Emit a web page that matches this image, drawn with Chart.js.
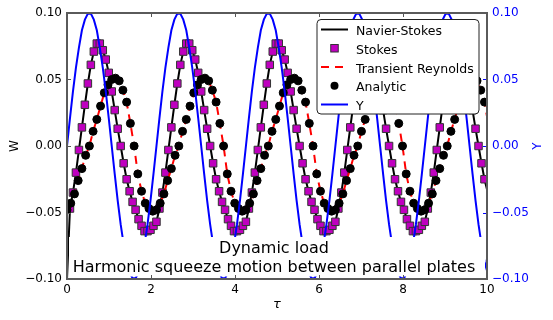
<!DOCTYPE html>
<html>
<head>
<meta charset="utf-8">
<title>Dynamic load - harmonic squeeze motion</title>
<script src="https://cdn.jsdelivr.net/npm/chart.js@4.4.1/dist/chart.umd.min.js"></script>
<style>
  html, body { margin: 0; padding: 0; background: #fff; }
  #wrap { width: 553px; height: 320px; }
</style>
</head>
<body>
<div id="wrap"><canvas id="squeeze-chart" width="553" height="320"></canvas></div>
<script>
// fine sampling in tau (Navier-Stokes / Stokes / plate motion Y)
const tauFine = [
  0, 0.071, 0.142, 0.213, 0.284, 0.355, 0.426, 0.497, 0.568, 0.639,
  0.71, 0.781, 0.852, 0.923, 0.994, 1.065, 1.136, 1.207, 1.278, 1.349,
  1.42, 1.491, 1.562, 1.633, 1.704, 1.775, 1.846, 1.917, 1.988, 2.059,
  2.13, 2.201, 2.272, 2.343, 2.414, 2.485, 2.556, 2.627, 2.698, 2.769,
  2.84, 2.911, 2.982, 3.053, 3.124, 3.195, 3.266, 3.337, 3.408, 3.479,
  3.55, 3.621, 3.692, 3.763, 3.834, 3.905, 3.976, 4.047, 4.118, 4.189,
  4.26, 4.331, 4.402, 4.473, 4.544, 4.615, 4.686, 4.757, 4.828, 4.899,
  4.97, 5.041, 5.112, 5.183, 5.254, 5.325, 5.396, 5.467, 5.538, 5.609,
  5.68, 5.751, 5.822, 5.893, 5.964, 6.035, 6.106, 6.177, 6.248, 6.319,
  6.39, 6.461, 6.532, 6.603, 6.674, 6.745, 6.816, 6.887, 6.958, 7.029,
  7.1, 7.171, 7.242, 7.313, 7.384, 7.455, 7.526, 7.597, 7.668, 7.739,
  7.81, 7.881, 7.952, 8.023, 8.094, 8.165, 8.236, 8.307, 8.378, 8.449,
  8.52, 8.591, 8.662, 8.733, 8.804, 8.875, 8.946, 9.017, 9.088, 9.159,
  9.23, 9.301, 9.372, 9.443, 9.514, 9.585, 9.656, 9.727, 9.798, 9.869,
  9.94, 10.011
];

// Stokes W (squares), Navier-Stokes runs through the same points
const stokesW = [
  null, -0.047, -0.035, -0.020, -0.003, 0.014, 0.031, 0.047, 0.061, 0.071,
  0.077, 0.077, 0.072, 0.065, 0.055, 0.041, 0.027, 0.013, 0.000, -0.013,
  -0.025, -0.034, -0.042, -0.048, -0.055, -0.060, -0.064, -0.064, -0.063, -0.060,
  -0.057, -0.047, -0.035, -0.020, -0.003, 0.014, 0.031, 0.047, 0.061, 0.071,
  0.077, 0.077, 0.072, 0.065, 0.055, 0.041, 0.027, 0.013, 0.000, -0.013,
  -0.025, -0.034, -0.042, -0.048, -0.055, -0.060, -0.064, -0.064, -0.063, -0.060,
  -0.057, -0.047, -0.035, -0.020, -0.003, 0.014, 0.031, 0.047, 0.061, 0.071,
  0.077, 0.077, 0.072, 0.065, 0.055, 0.041, 0.027, 0.013, 0.000, -0.013,
  -0.025, -0.034, -0.042, -0.048, -0.055, -0.060, -0.064, -0.064, -0.063, -0.060,
  -0.057, -0.047, -0.035, -0.020, -0.003, 0.014, 0.031, 0.047, 0.061, 0.071,
  0.077, 0.077, 0.072, 0.065, 0.055, 0.041, 0.027, 0.013, 0.000, -0.013,
  -0.025, -0.034, -0.042, -0.048, -0.055, -0.060, -0.064, -0.064, -0.063, -0.060,
  -0.057, -0.047, -0.035, -0.020, -0.003, 0.014, 0.031, 0.047, 0.061, 0.071,
  0.077, 0.077, 0.072, 0.065, 0.055, 0.041, 0.027, 0.013, 0.000, -0.013,
  -0.025, -0.034
];
const navierStart = -0.1; // NS curve starts off the bottom of the axis at tau = 0

// plate motion Y (right axis)
const plateY = [
  0, 0.021, 0.041, 0.059, 0.074, 0.087, 0.095, 0.0995, 0.0995, 0.095,
  0.087, 0.074, 0.059, 0.041, 0.021, 0, -0.021, -0.041, -0.059, -0.074,
  -0.087, -0.095, -0.0995, -0.0995, -0.095, -0.087, -0.074, -0.059, -0.041, -0.021,
  0, 0.021, 0.041, 0.059, 0.074, 0.087, 0.095, 0.0995, 0.0995, 0.095,
  0.087, 0.074, 0.059, 0.041, 0.021, 0, -0.021, -0.041, -0.059, -0.074,
  -0.087, -0.095, -0.0995, -0.0995, -0.095, -0.087, -0.074, -0.059, -0.041, -0.021,
  0, 0.021, 0.041, 0.059, 0.074, 0.087, 0.095, 0.0995, 0.0995, 0.095,
  0.087, 0.074, 0.059, 0.041, 0.021, 0, -0.021, -0.041, -0.059, -0.074,
  -0.087, -0.095, -0.0995, -0.0995, -0.095, -0.087, -0.074, -0.059, -0.041, -0.021,
  0, 0.021, 0.041, 0.059, 0.074, 0.087, 0.095, 0.0995, 0.0995, 0.095,
  0.087, 0.074, 0.059, 0.041, 0.021, 0, -0.021, -0.041, -0.059, -0.074,
  -0.087, -0.095, -0.0995, -0.0995, -0.095, -0.087, -0.074, -0.059, -0.041, -0.021,
  0, 0.021, 0.041, 0.059, 0.074, 0.087, 0.095, 0.0995, 0.0995, 0.095,
  0.087, 0.074, 0.059, 0.041, 0.021, 0, -0.021, -0.041, -0.059, -0.074,
  -0.087, -0.095
];

// coarser sampling for the analytic solution
const tauCoarse = [
  0, 0.089, 0.178, 0.266, 0.355, 0.444, 0.533, 0.621, 0.71, 0.799, 0.888, 0.976,
  1.065, 1.154, 1.243, 1.331, 1.42, 1.509, 1.598, 1.686, 1.775, 1.864, 1.953, 2.041,
  2.13, 2.219, 2.308, 2.396, 2.485, 2.574, 2.663, 2.751, 2.84, 2.929, 3.018, 3.106,
  3.195, 3.284, 3.373, 3.461, 3.55, 3.639, 3.728, 3.816, 3.905, 3.994, 4.083, 4.171,
  4.26, 4.349, 4.438, 4.526, 4.615, 4.704, 4.793, 4.881, 4.97, 5.059, 5.148, 5.236,
  5.325, 5.414, 5.503, 5.591, 5.68, 5.769, 5.858, 5.946, 6.035, 6.124, 6.213, 6.301,
  6.39, 6.479, 6.568, 6.656, 6.745, 6.834, 6.923, 7.011, 7.1, 7.189, 7.278, 7.366,
  7.455, 7.544, 7.633, 7.721, 7.81, 7.899, 7.988, 8.076, 8.165, 8.254, 8.343, 8.431,
  8.52, 8.609, 8.698, 8.786, 8.875, 8.964, 9.053, 9.141, 9.23, 9.319, 9.408, 9.496,
  9.585, 9.674, 9.763, 9.851, 9.94, 10.029
];

// Analytic W (circles), the transient Reynolds dashed curve follows it
const analyticW = [
  -0.048, -0.043, -0.036, -0.026, -0.017, -0.007, 0.000, 0.011, 0.020, 0.030, 0.040, 0.046,
  0.050, 0.051, 0.049, 0.042, 0.033, 0.017, 0.000, -0.021, -0.034, -0.043, -0.047, -0.049,
  -0.048, -0.043, -0.036, -0.026, -0.017, -0.007, 0.000, 0.011, 0.020, 0.030, 0.040, 0.046,
  0.050, 0.051, 0.049, 0.042, 0.033, 0.017, 0.000, -0.021, -0.034, -0.043, -0.047, -0.049,
  -0.048, -0.043, -0.036, -0.026, -0.017, -0.007, 0.000, 0.011, 0.020, 0.030, 0.040, 0.046,
  0.050, 0.051, 0.049, 0.042, 0.033, 0.017, 0.000, -0.021, -0.034, -0.043, -0.047, -0.049,
  -0.048, -0.043, -0.036, -0.026, -0.017, -0.007, 0.000, 0.011, 0.020, 0.030, 0.040, 0.046,
  0.050, 0.051, 0.049, 0.042, 0.033, 0.017, 0.000, -0.021, -0.034, -0.043, -0.047, -0.049,
  -0.048, -0.043, -0.036, -0.026, -0.017, -0.007, 0.000, 0.011, 0.020, 0.030, 0.040, 0.046,
  0.050, 0.051, 0.049, 0.042, 0.033, 0.017
];

const xTickValues = [0, 2, 4, 6, 8, 10];
const xTickLabels = ['0', '2', '4', '6', '8', '10'];
const yTickValues = [-0.1, -0.05, 0, 0.05, 0.1];
const yTickLabels = ['\u22120.10', '\u22120.05', '0.00', '0.05', '0.10'];

const FONT = '"DejaVu Sans", "Liberation Sans", sans-serif';
const MAGENTA = '#bf00bf';
const BLUE = '#0000ff';

const legendItems = [
  { label: 'Navier-Stokes', kind: 'line', color: '#000' },
  { label: 'Stokes', kind: 'square', color: MAGENTA },
  { label: 'Transient Reynolds', kind: 'dash', color: '#ff0000' },
  { label: 'Analytic', kind: 'circle', color: '#000' },
  { label: 'Y', kind: 'line', color: BLUE }
];

function pts(xs, ys) {
  return xs.map((x, i) => ({ x: x, y: ys[i] }));
}

// white box with the two caption lines, sits on top of the curves
const captionBox = {
  id: 'captionBox',
  afterDatasetsDraw(chart) {
    const ctx = chart.ctx;
    ctx.save();
    ctx.fillStyle = '#fff';
    ctx.fillRect(69, 237, 416, 39.5);
    ctx.fillStyle = '#000';
    ctx.font = '16px ' + FONT;
    ctx.textAlign = 'center';
    ctx.textBaseline = 'alphabetic';
    ctx.fillText('Dynamic load', 274, 252.7);
    ctx.fillText('Harmonic squeeze motion between parallel plates', 274, 271.7);
    ctx.restore();
  }
};

// spines, inward ticks, axis titles and the legend
const frame = {
  id: 'frame',
  afterDraw(chart) {
    const ctx = chart.ctx;
    const a = chart.chartArea;
    const xs = chart.scales.x, ys = chart.scales.y, y2 = chart.scales.y2;
    ctx.save();

    ctx.strokeStyle = '#555';
    ctx.lineWidth = 1;
    ctx.beginPath();
    xTickValues.forEach(v => {
      const px = Math.round(xs.getPixelForValue(v)) + 0.5;
      ctx.moveTo(px, a.bottom); ctx.lineTo(px, a.bottom - 4);
      ctx.moveTo(px, a.top); ctx.lineTo(px, a.top + 4);
    });
    yTickValues.forEach(v => {
      const py = Math.round(ys.getPixelForValue(v)) + 0.5;
      ctx.moveTo(a.left, py); ctx.lineTo(a.left + 4, py);
    });
    ctx.stroke();

    ctx.strokeStyle = BLUE;
    ctx.beginPath();
    yTickValues.forEach(v => {
      const py = Math.round(y2.getPixelForValue(v)) + 0.5;
      ctx.moveTo(a.right, py); ctx.lineTo(a.right - 4, py);
    });
    ctx.stroke();

    ctx.strokeStyle = '#5a5a5a';
    ctx.lineWidth = 2;
    ctx.strokeRect(a.left, a.top, a.right - a.left, a.bottom - a.top);

    // axis titles
    ctx.textAlign = 'center';
    ctx.textBaseline = 'middle';
    ctx.fillStyle = '#000';
    ctx.font = '12px ' + FONT;
    ctx.save();
    ctx.translate(15, (a.top + a.bottom) / 2);
    ctx.rotate(-Math.PI / 2);
    ctx.fillText('W', 0, 0);
    ctx.restore();
    ctx.save();
    ctx.fillStyle = BLUE;
    ctx.translate(538, (a.top + a.bottom) / 2);
    ctx.rotate(-Math.PI / 2);
    ctx.fillText('Y', 0, 0);
    ctx.restore();
    ctx.font = 'italic 13px ' + FONT;
    ctx.fillText('\u03c4', (a.left + a.right) / 2, 305);

    // legend
    const lx = 317, ly = 19.5, lw = 162, lh = 94.5;
    ctx.beginPath();
    ctx.roundRect(lx, ly, lw, lh, 4);
    ctx.fillStyle = '#fff';
    ctx.fill();
    ctx.strokeStyle = '#222';
    ctx.lineWidth = 1;
    ctx.stroke();

    ctx.font = '12.5px ' + FONT;
    ctx.textAlign = 'left';
    ctx.textBaseline = 'alphabetic';
    legendItems.forEach((item, i) => {
      const cy = 29.5 + 18.75 * i;
      const x0 = 321, x1 = 348, xm = (x0 + x1) / 2;
      ctx.save();
      if (item.kind === 'line' || item.kind === 'dash') {
        ctx.strokeStyle = item.color;
        ctx.lineWidth = 2;
        if (item.kind === 'dash') ctx.setLineDash([8, 6]);
        ctx.beginPath();
        ctx.moveTo(x0, cy); ctx.lineTo(x1, cy);
        ctx.stroke();
      } else if (item.kind === 'square') {
        ctx.fillStyle = item.color;
        ctx.strokeStyle = '#333';
        ctx.lineWidth = 1;
        ctx.fillRect(xm - 3.75, cy - 3.75, 7.5, 7.5);
        ctx.strokeRect(xm - 3.75, cy - 3.75, 7.5, 7.5);
      } else {
        ctx.fillStyle = item.color;
        ctx.beginPath();
        ctx.arc(xm, cy, 4, 0, Math.PI * 2);
        ctx.fill();
      }
      ctx.restore();
      ctx.fillStyle = '#000';
      ctx.fillText(item.label, 356, cy + 5.7);
    });

    ctx.restore();
  }
};

const tickFont = { family: FONT, size: 12 };

new Chart(document.getElementById('squeeze-chart').getContext('2d'), {
  type: 'line',
  data: {
    datasets: [
      {
        label: 'Navier-Stokes',
        data: tauFine.map((t, i) => ({ x: t, y: i === 0 ? navierStart : stokesW[i] })),
        borderColor: '#000',
        borderWidth: 2,
        pointRadius: 0,
        yAxisID: 'y',
        order: 5
      },
      {
        label: 'Stokes',
        data: pts(tauFine.slice(0, 141), stokesW),
        showLine: false,
        pointStyle: 'rect',
        pointRadius: 5.3,
        backgroundColor: MAGENTA,
        borderColor: '#333',
        borderWidth: 1,
        yAxisID: 'y',
        order: 4
      },
      {
        label: 'Transient Reynolds',
        data: pts(tauCoarse, analyticW),
        borderColor: '#ff0000',
        borderWidth: 2,
        borderDash: [8, 6],
        pointRadius: 0,
        yAxisID: 'y',
        order: 3
      },
      {
        label: 'Analytic',
        data: pts(tauCoarse.slice(0, 113), analyticW),
        showLine: false,
        pointStyle: 'circle',
        pointRadius: 4,
        backgroundColor: '#000',
        borderColor: '#000',
        borderWidth: 1,
        yAxisID: 'y',
        order: 2
      },
      {
        label: 'Y',
        data: pts(tauFine, plateY),
        borderColor: BLUE,
        borderWidth: 2,
        pointRadius: 0,
        yAxisID: 'y2',
        order: 1
      }
    ]
  },
  options: {
    responsive: false,
    animation: false,
    devicePixelRatio: 1,
    layout: { padding: { top: 13, left: 0, right: 0, bottom: 0 } },
    plugins: {
      legend: { display: false },
      tooltip: { enabled: false }
    },
    elements: { line: { tension: 0 } },
    scales: {
      x: {
        type: 'linear',
        position: 'bottom',
        min: 0,
        max: 10,
        afterFit: s => { s.height = 41; },
        afterBuildTicks: s => { s.ticks = xTickValues.map(v => ({ value: v })); },
        grid: { display: false, drawTicks: false },
        border: { display: false },
        ticks: {
          font: tickFont,
          color: '#000',
          padding: 4,
          maxRotation: 0,
          autoSkip: false,
          callback: (v, i) => xTickLabels[i]
        }
      },
      y: {
        type: 'linear',
        position: 'left',
        min: -0.1,
        max: 0.1,
        afterFit: s => { s.width = 67; },
        afterBuildTicks: s => { s.ticks = yTickValues.map(v => ({ value: v })); },
        grid: { display: false, drawTicks: false },
        border: { display: false },
        ticks: {
          font: tickFont,
          color: '#000',
          padding: 5,
          autoSkip: false,
          callback: (v, i) => yTickLabels[i]
        }
      },
      y2: {
        type: 'linear',
        position: 'right',
        min: -0.1,
        max: 0.1,
        afterFit: s => { s.width = 66; },
        afterBuildTicks: s => { s.ticks = yTickValues.map(v => ({ value: v })); },
        grid: { display: false, drawTicks: false },
        border: { display: false },
        ticks: {
          font: tickFont,
          color: BLUE,
          padding: 5,
          autoSkip: false,
          callback: (v, i) => yTickLabels[i]
        }
      }
    }
  },
  plugins: [captionBox, frame]
});
</script>
</body>
</html>
